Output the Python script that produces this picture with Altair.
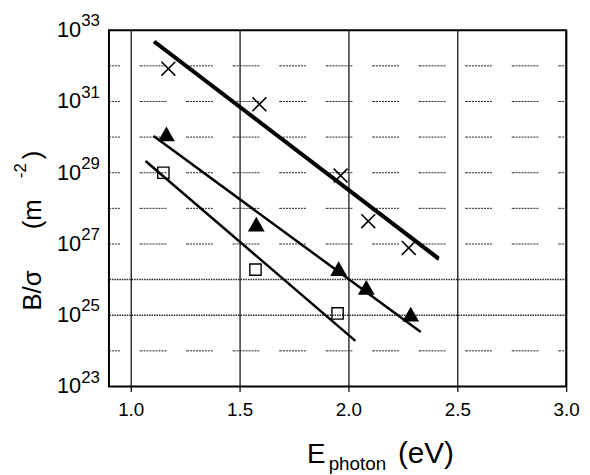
import altair as alt
import pandas as pd

FONT = "Liberation Sans"

# Data (y values given as log10 exponents)
cross_x = [1.173, 1.591, 1.964, 2.091, 2.277]
cross_exp = [31.92, 30.92, 28.92, 27.64, 26.89]
tri_x = [1.164, 1.577, 1.955, 2.082, 2.286]
tri_exp = [30.06, 27.53, 26.28, 25.75, 25.00]
sq_x = [1.150, 1.573, 1.950]
sq_exp = [29.00, 26.28, 25.05]

fit_series = ["x_a", "x_a", "x_b", "x_b", "tri", "tri", "sq", "sq"]
fit_x = [1.105, 2.414, 1.110, 2.416, 1.105, 2.332, 1.068, 2.032]
fit_exp = [32.67, 26.56, 32.70, 26.61, 30.03, 24.53, 29.33, 24.28]

dashed_exp = [24, 27, 28, 29, 30, 31, 32]
dotted_exp = [25, 26]
label_exp = [23, 25, 27, 29, 31, 33]
x_ticks = [1.0, 1.5, 2.0, 2.5, 3.0]

xscale = alt.Scale(domain=[0.9, 3.0], nice=False, zero=False)
yscale = alt.Scale(type="log", domain=[1e23, 1e33], nice=False)

def pts(xs, es):
    return pd.DataFrame({"x": xs, "y": [10.0 ** e for e in es]})

x_axis = alt.Axis(
    values=x_ticks, format=".1f", grid=True, gridColor="black", gridWidth=1.2,
    gridOpacity=1, tickColor="black", tickSize=5, tickWidth=1.2, domain=False,
    labelFont=FONT, labelFontSize=19, labelColor="black", labelPadding=9,
    labelFlush=False, title=None)
X = alt.X("x:Q", scale=xscale, axis=x_axis)
Y_noaxis = alt.Y("y:Q", scale=yscale, axis=None)

# horizontal grid
dash_pat = [2, 1] * 8 + [3, 20]
dashed = alt.Chart(pd.DataFrame({"y": [10.0 ** e for e in dashed_exp]})).mark_rule(
    stroke="#222", strokeWidth=1, strokeDash=dash_pat, strokeDashOffset=19
).encode(y=Y_noaxis)
dotted = alt.Chart(pd.DataFrame({"y": [10.0 ** e for e in dotted_exp]})).mark_rule(
    stroke="#222", strokeWidth=1.5, strokeDash=[1.5, 1]
).encode(y=Y_noaxis)

# fit lines
fit_df = pd.DataFrame({"s": fit_series, "x": fit_x, "y": [10.0 ** e for e in fit_exp]})
fits = alt.Chart(fit_df).mark_line(color="black", strokeWidth=2.5).encode(
    x=X, y=Y_noaxis, detail="s:N",
)

crosses = alt.Chart(pts(cross_x, cross_exp)).mark_point(
    shape="M-1,-1L1,1M-1,1L1,-1", size=196, filled=False, stroke="black",
    strokeWidth=1.6, opacity=1
).encode(x=X, y=Y_noaxis)

tris = alt.Chart(pts(tri_x, tri_exp)).mark_point(
    shape="M0,-1L1,0.75L-1,0.75Z", size=289, filled=True, color="black", opacity=1
).encode(x=X, y=Y_noaxis)

sqs = alt.Chart(pts(sq_x, sq_exp)).mark_point(
    shape="square", size=130, filled=False, stroke="black", strokeWidth=1.4, opacity=1
).encode(x=X, y=Y_noaxis)

# y tick labels with superscript exponents
lab_df = pd.DataFrame({"y": [10.0 ** e for e in label_exp], "e": [str(e) for e in label_exp]})
lab10 = alt.Chart(lab_df).mark_text(
    text="10", align="right", baseline="middle", font=FONT, fontSize=22, color="black"
).encode(x=alt.value(-28), y=Y_noaxis)
labexp = alt.Chart(lab_df).mark_text(
    align="left", baseline="middle", font=FONT, fontSize=17, color="black", dy=-9
).encode(x=alt.value(-28), y=Y_noaxis, text="e:N")

one = pd.DataFrame({"k": [0]})

def label(txt, px, py, size, align="left", baseline="alphabetic", angle=0):
    kw = dict(text=txt, font=FONT, fontSize=size, color="black", align=align, baseline=baseline)
    if angle:
        kw["angle"] = angle
    return alt.Chart(one).mark_text(**kw).encode(x=alt.value(px), y=alt.value(py))

xt_E = label("E", 200, 437, 28)
xt_sub = label("photon", 222, 444, 19)
xt_unit = label("(eV)", 292, 437, 30)

# rotated y title pieces (baseline on the right side after rotation)
yt_b = label("B/σ", -69, 263, 26, align="center", angle=270)
yt_m = label("(m", -69, 186, 26, align="center", angle=270)
yt_sup = label("-2", -84, 142, 17, align="center", angle=270)
yt_p = label(")", -69, 126, 26, align="center", angle=270)

chart = alt.layer(
    dashed, dotted, fits, crosses, tris, sqs, lab10, labexp,
    xt_E, xt_sub, xt_unit, yt_b, yt_m, yt_sup, yt_p
).properties(
    width=462, height=360,
    background="white",
    autosize=alt.AutoSizeParams(type="none"),
    padding={"left": 102, "top": 20, "right": 16, "bottom": 87},
).configure_view(
    stroke="black", strokeWidth=2
)

chart.save("out.html", embed_options={"renderer": "svg", "actions": False})
